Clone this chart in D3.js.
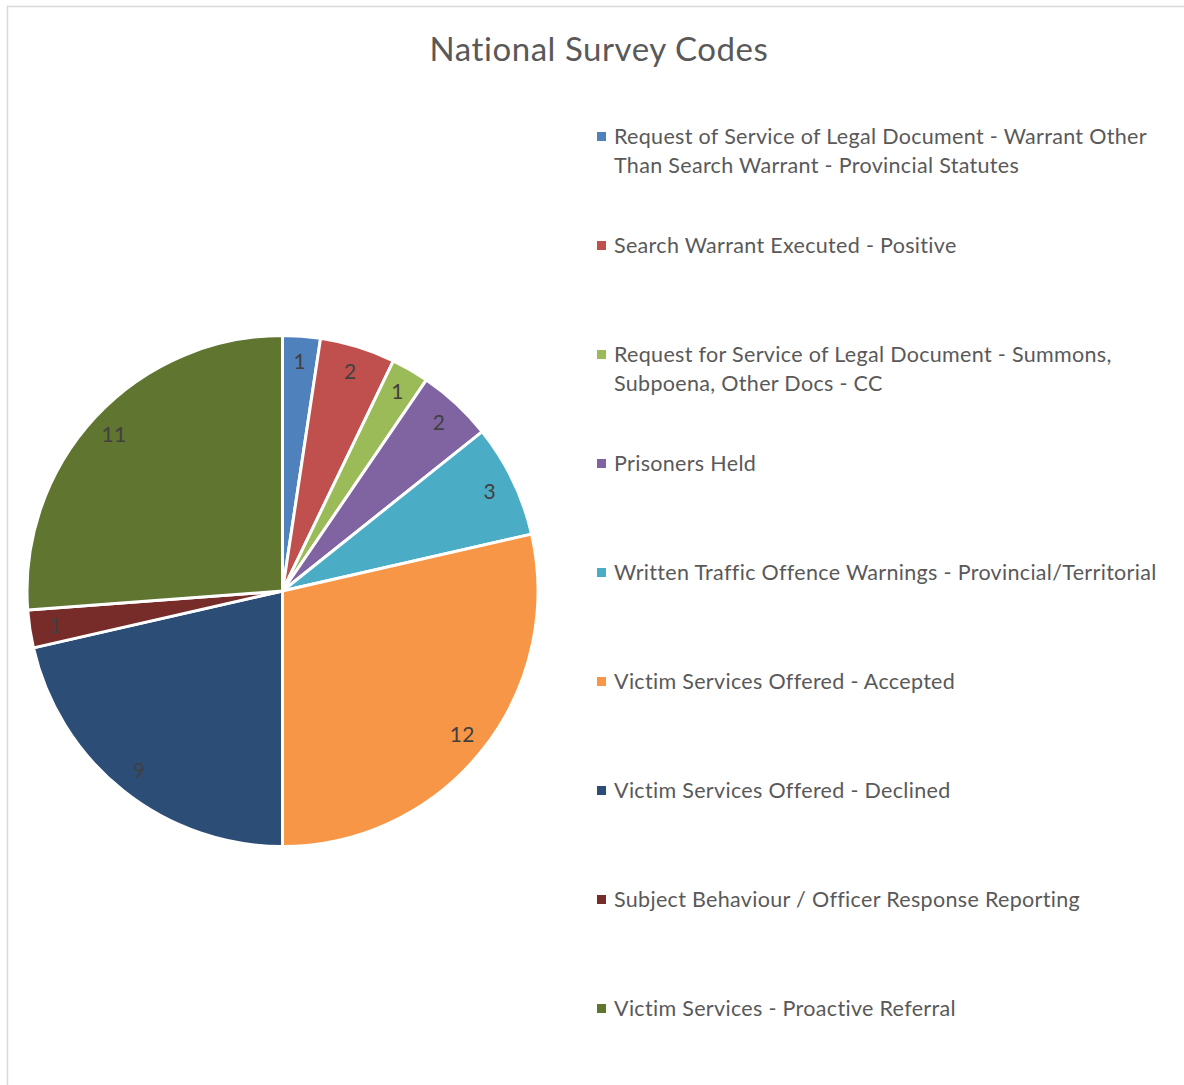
<!DOCTYPE html>
<html><head><meta charset="utf-8">
<script src="https://cdn.jsdelivr.net/npm/d3@7"></script>
<style>body{margin:0;background:#fff}svg{display:block}</style>
</head><body>
<svg id="c" width="1184" height="1085"></svg>
<script>
const categories = [
  "Request of Service of Legal Document - Warrant Other|Than Search Warrant - Provincial Statutes",
  "Search Warrant Executed - Positive",
  "Request for Service of Legal Document - Summons,|Subpoena, Other Docs - CC",
  "Prisoners Held",
  "Written Traffic Offence Warnings - Provincial/Territorial",
  "Victim Services Offered - Accepted",
  "Victim Services Offered - Declined",
  "Subject Behaviour / Officer Response Reporting",
  "Victim Services - Proactive Referral"
];
const values = [1, 2, 1, 2, 3, 12, 9, 1, 11];
const colors = ["#4F81BD","#C0504D","#9BBB59","#8064A2","#4BACC6","#F79646","#2C4D75","#772C2A","#5F7530"];
const title = "National Survey Codes";

const svg = d3.select("#c");
const font = "Lato, 'Open Sans', sans-serif";
svg.append("rect").attr("x",7.5).attr("y",6.5).attr("width",1200).attr("height",1200)
  .attr("fill","none").attr("stroke","#d9d9d9").attr("stroke-width",1.5);

svg.append("text").attr("x",599).attr("y",61).attr("text-anchor","middle")
  .attr("font-family",font).attr("font-size",33).attr("letter-spacing",0.55)
  .attr("fill","#595959").text(title);

const cx = 282.5, cy = 591, R = 255.5;
const pie = d3.pie().sort(null).value(d=>d)(values);
const arc = d3.arc().innerRadius(0).outerRadius(R);
const labelArc = d3.arc().innerRadius(R*0.9).outerRadius(R*0.9);
const g = svg.append("g").attr("transform",`translate(${cx},${cy})`);
g.selectAll("path").data(pie).join("path").attr("d",arc)
  .attr("fill",(d,i)=>colors[i]).attr("stroke","#fff").attr("stroke-width",3).attr("stroke-linejoin","round");
g.selectAll("text").data(pie).join("text")
  .attr("transform",d=>`translate(${labelArc.centroid(d)})`)
  .attr("text-anchor","middle").attr("dy","0.35em")
  .attr("font-family",font).attr("font-size",21).attr("letter-spacing",0.3).attr("fill","#404040")
  .text(d=>d.data);

const legY = d3.scaleLinear().domain([0,1]).range([137,246]);
const lg = svg.append("g");
categories.forEach((c,i)=>{
  const y = legY(i);
  lg.append("rect").attr("x",597).attr("y",y-5).attr("width",9).attr("height",9).attr("fill",colors[i]);
  const t = lg.append("text").attr("font-family",font).attr("font-size",21.5)
    .attr("letter-spacing",0.32).attr("fill","#595959");
  c.split("|").forEach((line,j)=>{
    t.append("tspan").attr("x",614).attr("y",y+7+j*28.5).text(line);
  });
});
</script>
</body></html>
